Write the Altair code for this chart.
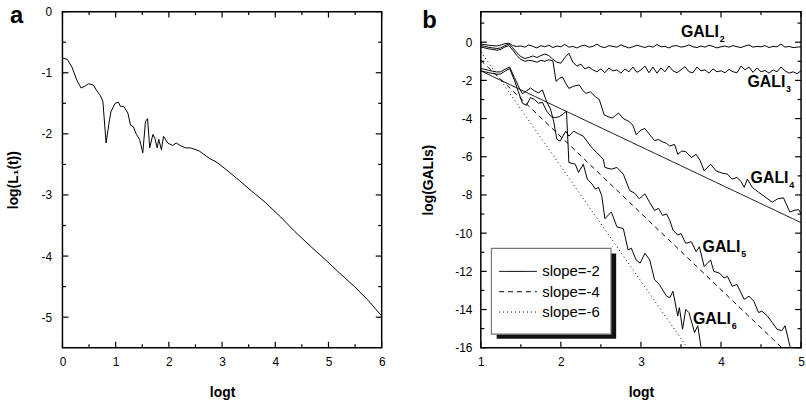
import altair as alt
import pandas as pd

FONT = "Liberation Sans"

# ---------------- panel a : log(L1(t)) vs logt ----------------
a_logt = [0.00, 0.09, 0.18, 0.27, 0.35, 0.42, 0.49, 0.58, 0.65, 0.71,
          0.76, 0.82, 0.87, 0.91, 0.99, 1.05, 1.09, 1.15, 1.23, 1.28,
          1.33, 1.39, 1.45, 1.51, 1.56, 1.60, 1.64, 1.70, 1.74, 1.78,
          1.81, 1.86, 1.90, 1.98, 2.07, 2.14, 2.23, 2.32, 2.41, 2.57,
          2.76, 2.91, 3.07, 3.32, 3.56, 3.81, 4.10, 4.37, 4.65, 4.93,
          5.21, 5.49, 5.75, 6.00]
a_logL = [-0.76, -0.78, -0.91, -1.12, -1.25, -1.22, -1.18, -1.20, -1.30, -1.37,
          -1.47, -2.15, -1.85, -1.64, -1.50, -1.48, -1.55, -1.55, -1.66, -1.86,
          -1.88, -2.01, -2.09, -2.31, -1.80, -1.75, -2.23, -2.01, -2.08, -2.23,
          -2.09, -2.26, -2.04, -2.15, -2.19, -2.15, -2.20, -2.23, -2.23, -2.28,
          -2.40, -2.47, -2.58, -2.76, -2.94, -3.12, -3.36, -3.60, -3.83, -4.05,
          -4.28, -4.50, -4.73, -4.98]

# ---------------- panel b : log(GALIs) vs logt ----------------
b_grid = [round(1 + 0.05 * i, 2) for i in range(81)]
gali2 = [-0.10, -0.13, -0.16, -0.18, -0.20, -0.15, -0.08, -0.05, -0.18, -0.22,
         -0.20, -0.26, -0.14, -0.22, -0.30, -0.18, -0.24, -0.16, -0.28, -0.20,
         -0.24, -0.12, -0.26, -0.22, -0.30, -0.20, -0.16, -0.26, -0.22, -0.10,
         -0.24, -0.28, -0.18, -0.22, -0.26, -0.14, -0.22, -0.30, -0.24, -0.16,
         -0.22, -0.28, -0.20, -0.26, -0.12, -0.24, -0.22, -0.30, -0.20, -0.18,
         -0.26, -0.22, -0.14, -0.24, -0.28, -0.20, -0.26, -0.16, -0.22, -0.30,
         -0.24, -0.20, -0.26, -0.18, -0.24, -0.28, -0.20, -0.14, -0.26, -0.22,
         -0.24, -0.18, -0.28, -0.22, -0.24, -0.10, -0.26, -0.22, -0.28, -0.26, -0.24]
gali3 = [-0.18, -0.22, -0.27, -0.30, -0.33, -0.30, -0.18, -0.10, -0.30, -0.55,
         -0.75, -0.85, -0.80, -0.72, -0.80, -0.70, -0.62, -0.70, -0.90, -1.05,
         -1.10, -0.80, -0.58, -1.05, -1.25, -1.15, -1.40, -1.30, -1.45, -1.55,
         -1.40, -1.60, -1.35, -1.50, -1.45, -1.62, -1.40, -1.55, -1.30, -1.58,
         -1.45, -1.25, -1.60, -1.30, -1.62, -1.35, -1.55, -1.25, -1.50, -1.60,
         -1.45, -1.28, -1.55, -1.60, -1.30, -1.50, -1.45, -1.62, -1.40, -1.55,
         -1.50, -1.60, -1.42, -1.55, -1.60, -1.25, -1.45, -1.30, -1.58, -1.35,
         -1.55, -1.48, -1.62, -1.45, -1.55, -1.30, -1.50, -1.62, -1.55, -1.65, -1.50]
gali4_x = [1.00, 1.05, 1.10, 1.15, 1.20, 1.25, 1.30, 1.35, 1.40, 1.45,
           1.50, 1.55, 1.60, 1.65, 1.70, 1.75, 1.80, 1.85, 1.90, 1.94,
           1.98, 2.02, 2.06, 2.10, 2.16, 2.23, 2.27, 2.31, 2.37, 2.43,
           2.48, 2.54, 2.59, 2.64, 2.68, 2.72, 2.78, 2.85, 2.90, 2.94,
           3.00, 3.05, 3.11, 3.17, 3.22, 3.27, 3.32, 3.36, 3.42, 3.46,
           3.51, 3.56, 3.63, 3.69, 3.74, 3.79, 3.87, 3.94, 4.01, 4.08,
           4.14, 4.20, 4.25, 4.29, 4.33, 4.39, 4.47, 4.55, 4.64, 4.71,
           4.78, 4.86, 4.92, 4.97, 5.00]
gali4_y = [-0.25, -0.30, -0.35, -0.38, -0.42, -0.38, -0.25, -0.18, -0.42, -0.70,
           -0.90, -1.00, -0.95, -0.98, -1.05, -0.95, -1.00, -0.92, -0.98, -2.05,
           -1.90, -1.82, -2.15, -2.42, -2.30, -2.24, -2.50, -2.68, -2.60, -2.85,
           -3.00, -3.80, -3.90, -3.97, -3.85, -3.71, -4.00, -4.15, -4.35, -4.84,
           -4.60, -4.52, -4.85, -5.15, -5.10, -5.22, -5.30, -5.44, -5.35, -5.87,
           -5.70, -5.73, -6.04, -5.87, -6.20, -6.74, -6.39, -6.74, -6.85, -6.91,
           -7.17, -7.08, -7.30, -7.60, -7.17, -7.60, -7.86, -8.10, -8.38, -8.20,
           -8.15, -8.89, -8.80, -8.77, -8.98]
gali5_x = [1.00, 1.05, 1.10, 1.15, 1.20, 1.25, 1.30, 1.36, 1.42, 1.48,
           1.52, 1.57, 1.62, 1.67, 1.72, 1.77, 1.82, 1.87, 1.91, 1.95,
           1.99, 2.06, 2.10, 2.16, 2.22, 2.28, 2.37, 2.45, 2.53, 2.55,
           2.63, 2.70, 2.78, 2.86, 2.92, 2.98, 3.05, 3.11, 3.17, 3.22,
           3.27, 3.32, 3.36, 3.40, 3.46, 3.50, 3.56, 3.63, 3.69, 3.73,
           3.79, 3.87, 3.91, 3.98, 4.04, 4.08, 4.14, 4.20, 4.24, 4.29,
           4.35, 4.41, 4.47, 4.51, 4.58, 4.64, 4.70, 4.76, 4.80, 4.86, 4.90]
gali5_y = [-1.38, -1.42, -1.48, -1.52, -1.56, -1.55, -1.42, -1.30, -1.85, -2.40,
           -2.70, -2.55, -2.40, -2.55, -2.65, -2.50, -3.10, -3.50, -4.15, -5.09,
           -5.18, -4.66, -4.92, -4.66, -4.80, -4.92, -5.44, -5.79, -6.13, -6.56,
           -6.65, -6.56, -6.91, -7.77, -7.90, -8.20, -7.94, -8.40, -8.81, -8.70,
           -9.07, -9.00, -9.33, -9.84, -10.10, -10.02, -10.53, -10.45, -10.97, -10.71,
           -11.75, -11.40, -12.00, -12.09, -12.35, -12.26, -12.78, -12.69, -13.04, -13.47,
           -13.30, -13.56, -14.16, -14.08, -14.34, -14.68, -15.03, -15.11, -14.85, -15.89, -16.50]
gali6_x = [1.00, 1.05, 1.10, 1.15, 1.20, 1.25, 1.30, 1.36, 1.42, 1.47,
           1.52, 1.57, 1.62, 1.67, 1.72, 1.77, 1.82, 1.88, 1.93, 1.98,
           2.03, 2.07, 2.10, 2.18, 2.22, 2.28, 2.33, 2.39, 2.43, 2.47,
           2.51, 2.55, 2.63, 2.70, 2.78, 2.84, 2.88, 2.94, 2.99, 3.05,
           3.11, 3.17, 3.23, 3.32, 3.36, 3.40, 3.46, 3.48, 3.52, 3.56,
           3.60, 3.67, 3.71, 3.75, 3.78]
gali6_y = [-1.50, -1.55, -1.60, -1.64, -1.68, -1.66, -1.52, -1.38, -2.00, -2.60,
           -3.20, -3.30, -2.90, -3.00, -3.20, -3.15, -3.60, -3.90, -3.95, -3.90,
           -3.75, -3.62, -6.30, -6.39, -6.82, -6.39, -7.17, -7.43, -7.69, -7.60,
           -8.03, -9.24, -8.89, -9.67, -9.76, -10.88, -10.79, -11.40, -11.57, -11.05,
           -11.40, -12.44, -12.69, -13.30, -13.38, -13.04, -14.34, -13.90, -15.03, -13.99,
           -14.16, -15.20, -14.85, -15.97, -16.60]

slope_labels = ["slope=-2", "slope=-4", "slope=-6"]
slope_x0 = [1.0, 1.0, 1.0]
slope_y0 = [-1.5, -0.95, -0.5]
slope_x1 = [5.0, 4.76, 3.58]
slope_y1 = [-9.45, -16.0, -16.0]

gali_subs = ["2", "3", "4", "5", "6"]
gali_label_x = [3.50, 4.33, 4.37, 3.77, 3.65]
gali_label_y = [0.26, -2.33, -7.36, -10.98, -14.77]

# tick values
a_x_major = [0, 1, 2, 3, 4, 5, 6]
a_x_minor = [0.5, 1.5, 2.5, 3.5, 4.5, 5.5]
a_y_major = [-5, -4, -3, -2, -1, 0]
a_y_minor = [-4.5, -3.5, -2.5, -1.5, -0.5]
b_x_major = [1, 2, 3, 4, 5]
b_x_minor = [1.5, 2.5, 3.5, 4.5]
b_y_major = [-16, -14, -12, -10, -8, -6, -4, -2, 0]
b_y_minor = [-15, -13, -11, -9, -7, -5, -3, -1, 1]

W_A, H_A = 322, 339
W_B, H_B = 323, 339


def axis(values, title, lp, tp):
    return alt.Axis(values=values, title=title, labelExpr="datum.value + ''",
                    ticks=False, tickSize=0, domain=False, grid=False,
                    labelPadding=lp, titlePadding=tp, labelFont=FONT,
                    labelFontSize=12, labelColor="black", titleFont=FONT,
                    titleFontSize=14, titleFontWeight="bold", titleColor="black",
                    labelFlush=False, labelOverlap=False)


def tick_layers(xmaj, xmin, ymaj, ymin, xsc, ysc, xax, yax, W, H):
    layers = []
    for vals, L in ((xmaj, 6), (xmin, 3.5)):
        df = pd.DataFrame({"x": vals})
        base = alt.Chart(df).mark_rule(color="black", strokeWidth=1.2)
        xe = alt.X("x:Q", scale=xsc, axis=xax)
        layers.append(base.encode(x=xe, y=alt.value(H), y2=alt.value(H - L)))
        layers.append(base.encode(x=xe, y=alt.value(0), y2=alt.value(L)))
    for vals, L in ((ymaj, 6), (ymin, 3.5)):
        df = pd.DataFrame({"y": vals})
        base = alt.Chart(df).mark_rule(color="black", strokeWidth=1.2)
        ye = alt.Y("y:Q", scale=ysc, axis=yax)
        layers.append(base.encode(y=ye, x=alt.value(0), x2=alt.value(L)))
        layers.append(base.encode(y=ye, x=alt.value(W), x2=alt.value(W - L)))
    return layers


# ---------- panel a ----------
xa = alt.Scale(domain=[0, 6], nice=False, zero=False)
ya = alt.Scale(domain=[-5.5, 0], nice=False, zero=False)
xa_ax = axis(a_x_major, "logt", 9, 18)
ya_ax = axis(a_y_major, "log(L₁(t))", 11, 21)
df_a = pd.DataFrame({"x": a_logt, "y": a_logL})
line_a = alt.Chart(df_a).mark_line(color="black", strokeWidth=1).encode(
    x=alt.X("x:Q", scale=xa, axis=xa_ax),
    y=alt.Y("y:Q", scale=ya, axis=ya_ax),
)
letter_a = alt.Chart(pd.DataFrame({"t": ["a"]})).mark_text(
    align="left", baseline="alphabetic", font=FONT, fontSize=24, fontWeight="bold", color="black"
).encode(text="t:N", x=alt.value(-53), y=alt.value(11))
panel_a = alt.layer(line_a, *tick_layers(a_x_major, a_x_minor, a_y_major, a_y_minor, xa, ya,
                                         xa_ax, ya_ax, W_A, H_A),
                    letter_a).properties(width=W_A, height=H_A)

# ---------- panel b ----------
xb = alt.Scale(domain=[1, 5], nice=False, zero=False)
yb = alt.Scale(domain=[-16, 1.6], nice=False, zero=False)
xb_ax = axis(b_x_major, "logt", 9, 18)
yb_ax = axis(b_y_major, "log(GALIs)", 9, 19)
rows = []
for name, xs, ys in (("2", b_grid, gali2), ("3", b_grid, gali3), ("4", gali4_x, gali4_y),
                     ("5", gali5_x, gali5_y), ("6", gali6_x, gali6_y)):
    for xv, yv in zip(xs, ys):
        rows.append({"curve": name, "x": xv, "y": yv})
df_b = pd.DataFrame(rows)
lines_b = alt.Chart(df_b).mark_line(color="black", strokeWidth=1, clip=True).encode(
    x=alt.X("x:Q", scale=xb, axis=xb_ax),
    y=alt.Y("y:Q", scale=yb, axis=yb_ax),
    detail="curve:N",
)
srows = []
for lab, x0, y0, x1, y1 in zip(slope_labels, slope_x0, slope_y0, slope_x1, slope_y1):
    srows.append({"s": lab, "x": x0, "y": y0})
    srows.append({"s": lab, "x": x1, "y": y1})
df_s = pd.DataFrame(srows)
slopes = alt.Chart(df_s).mark_line(color="black", strokeWidth=1, clip=True).encode(
    x=alt.X("x:Q", scale=xb, axis=xb_ax),
    y=alt.Y("y:Q", scale=yb, axis=yb_ax),
    strokeDash=alt.StrokeDash(
        "s:N",
        scale=alt.Scale(domain=slope_labels, range=[[1, 0], [5, 4], [1, 3]]),
        legend=alt.Legend(orient="none", legendX=18, legendY=254.5, title=None,
                          symbolType="stroke", symbolSize=1444, symbolStrokeWidth=1,
                          symbolStrokeColor="black", labelFont=FONT, labelFontSize=15,
                          labelColor="black", labelOffset=5, rowPadding=4.5, padding=0,
                          clipHeight=15, labelLimit=300),
    ),
)
shadow = alt.Chart(pd.DataFrame({"k": [0]})).mark_rect(color="#111").encode(
    x=alt.value(16), x2=alt.value(136.5), y=alt.value(244), y2=alt.value(330))
box = alt.Chart(pd.DataFrame({"k": [0]})).mark_rect(fill="white", stroke="#777", strokeWidth=1.2).encode(
    x=alt.value(10.7), x2=alt.value(131.3), y=alt.value(238.7), y2=alt.value(325.3))

df_lab = pd.DataFrame({"g": ["GALI"] * 5, "sub": gali_subs, "x": gali_label_x, "y": gali_label_y})
lab_main = alt.Chart(df_lab).mark_text(align="left", baseline="alphabetic", font=FONT, fontSize=16,
                                       fontWeight="bold", color="black").encode(
    x=alt.X("x:Q", scale=xb, axis=xb_ax), y=alt.Y("y:Q", scale=yb, axis=yb_ax), text="g:N")
lab_sub = alt.Chart(df_lab).mark_text(align="left", baseline="alphabetic", font=FONT, fontSize=9,
                                      fontWeight="bold", color="black", dx=39, dy=5).encode(
    x=alt.X("x:Q", scale=xb, axis=xb_ax), y=alt.Y("y:Q", scale=yb, axis=yb_ax), text="sub:N")
letter_b = alt.Chart(pd.DataFrame({"t": ["b"]})).mark_text(
    align="left", baseline="alphabetic", font=FONT, fontSize=24, fontWeight="bold", color="black"
).encode(text="t:N", x=alt.value(-59), y=alt.value(16))

panel_b = alt.layer(lines_b, slopes, lab_main, lab_sub,
                    *tick_layers(b_x_major, b_x_minor, b_y_major, b_y_minor, xb, yb,
                                 xb_ax, yb_ax, W_B, H_B),
                    shadow, box, letter_b).properties(width=W_B, height=H_B)

chart = alt.hconcat(panel_a, panel_b, spacing=34).resolve_legend(
    strokeDash="independent"
).properties(
    padding={"left": 5, "top": 1, "right": 0, "bottom": 0},
    background="white",
).configure_view(stroke="black", strokeWidth=1.5)

chart.save("out.html", embed_options={"renderer": "svg", "actions": False})
